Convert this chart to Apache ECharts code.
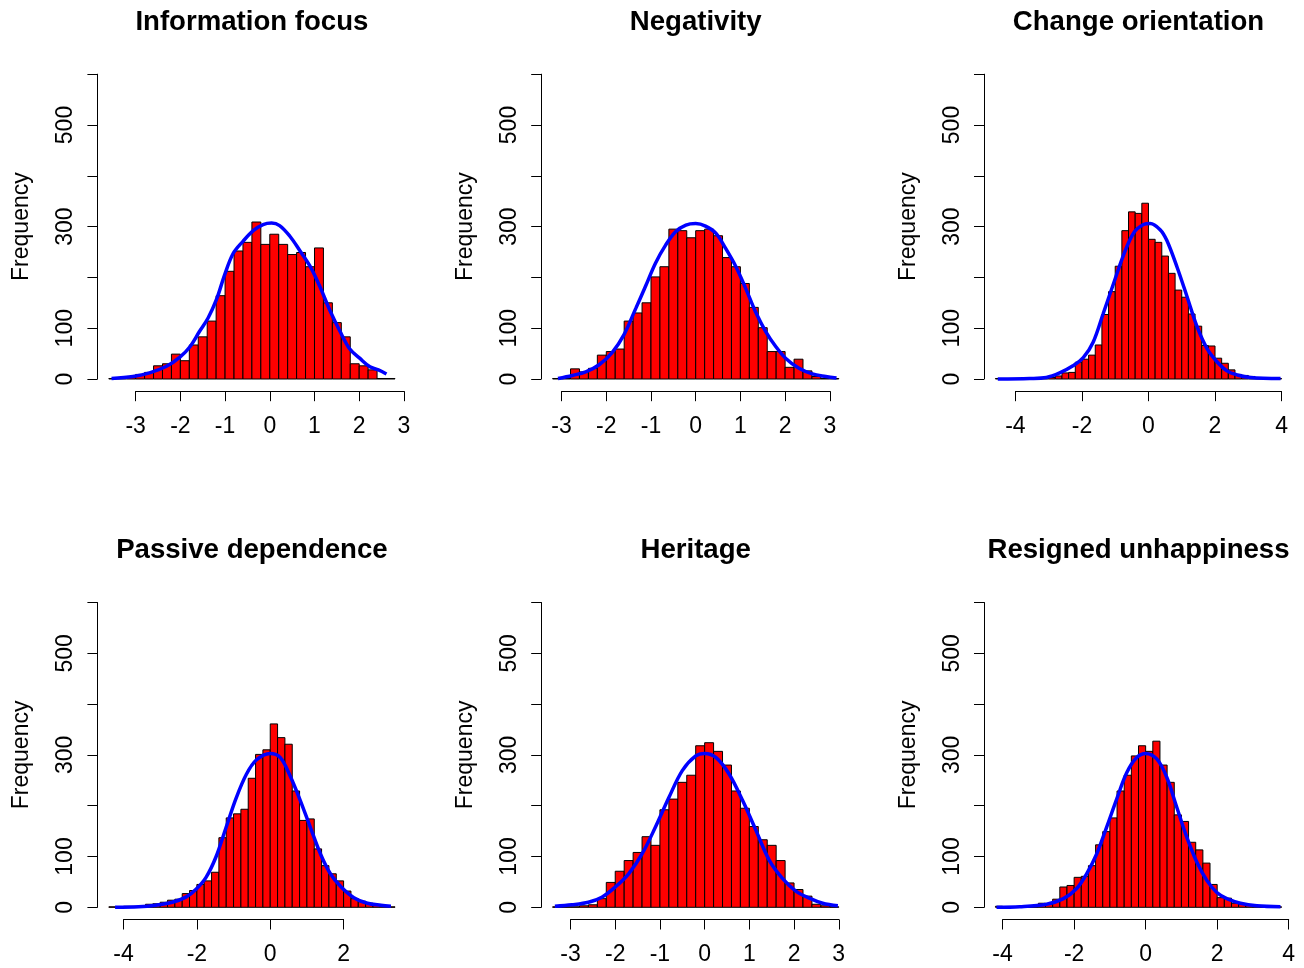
<!DOCTYPE html>
<html><head><meta charset="utf-8">
<script src="https://cdn.jsdelivr.net/npm/echarts@6/dist/echarts.min.js"></script>
<style>html,body{margin:0;padding:0;background:#fff}#c{width:1304px;height:968px}</style>
</head><body><div id="c"></div>
<script>
// ---------------- data ----------------
const titles = ['Information focus', 'Negativity', 'Change orientation',
                'Passive dependence', 'Heritage', 'Resigned unhappiness'];
const binWidth = 0.2;
const binStarts = [-3.6, -3.2, -4.6, -4.4, -3.4, -4.2];

const infoCounts = [1,3,5,9,13,26,30,49,36,67,83,114,164,212,252,269,309,265,285,265,245,249,221,258,150,111,83,30,26,18,1,1];
const negCounts = [1,1,20,14,21,47,54,59,114,130,150,201,221,295,292,278,292,295,282,239,221,188,141,101,54,54,23,39,16,5,1,1];
const changeCounts = [1,1,1,0,1,1,3,1,3,6,12,13,33,39,47,67,127,172,222,292,329,326,346,275,269,242,208,175,161,128,104,66,65,41,31,18,9,7,5,3,1,1,1];
const passiveCounts = [1,1,2,2,3,6,7,10,14,16,27,33,45,52,69,137,176,184,193,254,301,310,361,334,321,229,171,174,115,82,66,52,32,17,12,8,5,2,1];
const heritageCounts = [1,1,1,3,5,17,49,71,92,108,139,122,192,213,246,260,318,324,307,280,229,195,159,133,122,92,48,35,22,6,3,1];
const resignedCounts = [2,1,1,1,1,1,8,6,16,40,43,59,61,82,123,149,176,229,260,298,318,307,327,280,246,182,169,128,113,87,45,19,18,8,6,4,3,1,1,1];

const infoCurve = [[-3.54,1],[-3.06,5],[-2.69,12],[-2.31,25],[-2.01,43],[-1.79,63],[-1.57,94],[-1.38,120],[-1.19,157],[-1.01,205],[-0.82,247],[-0.60,271],[-0.37,292],[-0.15,304],[0.04,307],[0.22,302],[0.45,281],[0.67,253],[0.90,222],[1.12,182],[1.34,136],[1.57,94],[1.79,59],[2.01,41],[2.24,24],[2.43,18],[2.61,10]];
const negCurve = [[-3.08,1],[-2.76,7],[-2.46,14],[-2.16,28],[-1.87,52],[-1.60,88],[-1.34,139],[-1.12,183],[-0.90,228],[-0.67,264],[-0.45,290],[-0.22,303],[0,306],[0.22,301],[0.45,287],[0.67,257],[0.90,221],[1.12,178],[1.34,132],[1.57,93],[1.79,64],[2.01,41],[2.31,21],[2.61,10],[2.91,5],[3.15,2]];
const changeCurve = [[-4.53,0],[-3.57,1],[-3.07,3],[-2.67,12],[-2.27,26],[-1.96,42],[-1.66,73],[-1.36,129],[-1.06,186],[-0.75,244],[-0.45,287],[-0.15,304],[0.05,306],[0.35,294],[0.55,273],[0.86,220],[1.16,162],[1.46,103],[1.76,60],[2.06,34],[2.36,16],[2.67,8],[3.07,3],[3.97,1]];
const passiveCurve = [[-4.23,0],[-3.59,1],[-3.13,4],[-2.67,10],[-2.30,20],[-2.03,35],[-1.75,59],[-1.48,99],[-1.20,158],[-0.93,215],[-0.65,262],[-0.38,290],[0,303],[0.27,295],[0.54,259],[0.82,210],[1.09,158],[1.37,105],[1.64,66],[1.92,41],[2.28,19],[2.65,8],[3.02,4],[3.29,2]];
const heritageCurve = [[-3.35,2],[-2.97,5],[-2.60,10],[-2.30,20],[-2.00,40],[-1.70,66],[-1.40,105],[-1.10,158],[-0.80,216],[-0.50,269],[-0.20,298],[0,303],[0.25,295],[0.55,262],[0.85,210],[1.15,151],[1.45,92],[1.75,56],[2.04,32],[2.34,18],[2.64,8],[2.98,3]];
const resignedCurve = [[-4.17,0],[-3.52,1],[-2.77,6],[-2.30,17],[-1.93,37],[-1.65,66],[-1.37,105],[-1.09,158],[-0.81,213],[-0.53,265],[-0.25,295],[0,303],[0.31,292],[0.59,256],[0.87,197],[1.15,138],[1.43,89],[1.71,53],[1.99,29],[2.27,17],[2.65,8],[3.11,3],[3.77,1]];

const xTicks = [[-3,-2,-1,0,1,2,3],[-3,-2,-1,0,1,2,3],[-4,-2,0,2,4],
                [-4,-2,0,2],[-3,-2,-1,0,1,2,3],[-4,-2,0,2,4]];
const yTickMax = 600, yTickStep = 100;
const yLabels = [0, 100, 300, 500];
const yName = 'Frequency';

const countsList = [infoCounts, negCounts, changeCounts, passiveCounts, heritageCounts, resignedCounts];
const curvesList = [infoCurve, negCurve, changeCurve, passiveCurve, heritageCurve, resignedCurve];

// ---------------- layout ----------------
const FONT = "'Liberation Sans', Arial, Helvetica, sans-serif";
const colLefts = [97.4, 541.2, 984];
const rowTops = [62, 590.3];
const W = 309, H = 329.2;
const yMin = -24, yMax = 624;

const grids = [], xAxes = [], yAxes = [], series = [], titleOpts = [];

countsList.forEach((counts, i) => {
  const r = Math.floor(i / 3), c = i % 3;
  const left = colLefts[c], top = rowTops[r];
  const start = binStarts[i];
  const end = start + counts.length * binWidth;
  const ext = (end - start) * 0.04;
  const xmin = start - ext, xmax = end + ext;

  // data grid
  const gData = grids.length;
  grids.push({left: left, top: top, width: W, height: H});
  xAxes.push({gridIndex: gData, type: 'value', min: xmin, max: xmax, show: false});
  yAxes.push({gridIndex: gData, type: 'value', min: yMin, max: yMax, show: false});

  const bins = counts.map((v, k) => [+(start + k * binWidth).toFixed(2), +(start + (k + 1) * binWidth).toFixed(2), v]);
  series.push({
    type: 'custom', xAxisIndex: gData, yAxisIndex: gData, data: bins,
    encode: {x: [0, 1], y: 2}, z: 2, silent: true,
    renderItem: function (params, api) {
      const p0 = api.coord([api.value(0), 0]);
      const p1 = api.coord([api.value(1), api.value(2)]);
      return {type: 'rect',
        shape: {x: p0[0], y: p1[1], width: p1[0] - p0[0], height: p0[1] - p1[1]},
        style: {fill: '#ff0000', stroke: '#000000', lineWidth: 1}};
    }
  });
  series.push({
    type: 'line', xAxisIndex: gData, yAxisIndex: gData, data: curvesList[i],
    showSymbol: false, smooth: 0.35, z: 5, silent: true,
    lineStyle: {color: '#0000ff', width: 3.5}
  });

  // x axis grid
  const ticks = xTicks[i];
  const t0 = ticks[0], t1 = ticks[ticks.length - 1];
  const pxPerUnit = W / (xmax - xmin);
  const gX = grids.length;
  grids.push({left: left + (t0 - xmin) * pxPerUnit, width: (t1 - t0) * pxPerUnit, top: top + H - 1, height: 1});
  xAxes.push({gridIndex: gX, type: 'value', min: t0, max: t1, interval: ticks[1] - ticks[0],
    axisLine: {show: true, lineStyle: {color: '#000', width: 1}},
    axisTick: {show: true, inside: false, length: 10, lineStyle: {color: '#000', width: 1}},
    axisLabel: {show: true, color: '#000', fontSize: 23, fontFamily: FONT, margin: 24},
    splitLine: {show: false}});
  yAxes.push({gridIndex: gX, type: 'value', show: false});

  // y axis grid
  const pxPerY = H / (yMax - yMin);
  const gY = grids.length;
  grids.push({left: left, width: 1, top: top + (yMax - yTickMax) * pxPerY, height: yTickMax * pxPerY});
  xAxes.push({gridIndex: gY, type: 'value', show: false});
  yAxes.push({gridIndex: gY, type: 'value', min: 0, max: yTickMax, interval: yTickStep,
    name: yName, nameLocation: 'middle', nameGap: 64,
    nameTextStyle: {color: '#000', fontSize: 23, fontFamily: FONT},
    axisLine: {show: true, lineStyle: {color: '#000', width: 1}},
    axisTick: {show: true, inside: false, length: 10, lineStyle: {color: '#000', width: 1}},
    axisLabel: {show: true, rotate: 90, color: '#000', fontSize: 23, fontFamily: FONT, margin: 20,
      formatter: v => yLabels.indexOf(v) >= 0 ? String(v) : ''},
    splitLine: {show: false}});

  titleOpts.push({text: titles[i], left: left + W / 2, top: top - 54, textAlign: 'center', padding: 0,
    textStyle: {fontSize: 27.6, fontWeight: 'bold', color: '#000', fontFamily: FONT}});
});

const chart = echarts.init(document.getElementById('c'), null, {renderer: 'canvas'});
chart.setOption({
  animation: false,
  backgroundColor: '#ffffff',
  title: titleOpts,
  grid: grids, xAxis: xAxes, yAxis: yAxes, series: series
});
</script></body></html>
